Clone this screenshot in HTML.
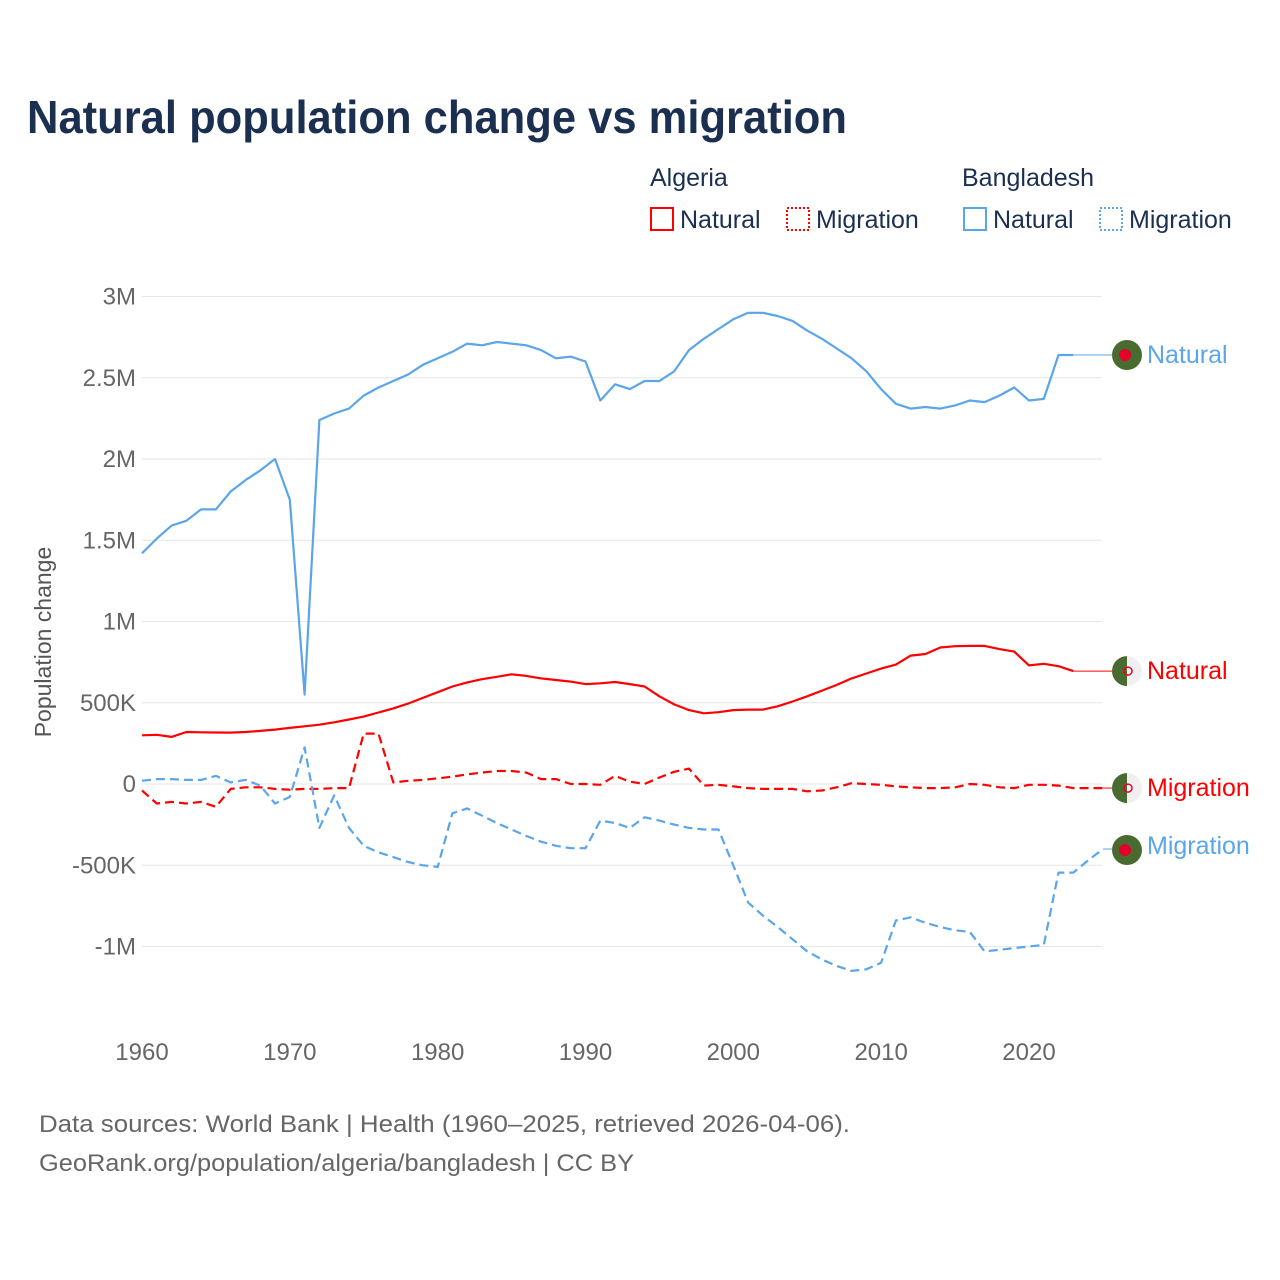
<!DOCTYPE html>
<html><head><meta charset="utf-8"><style>
body{margin:0;background:#fff;font-family:"Liberation Sans",sans-serif;}
#wrap{position:relative;width:1280px;height:1280px;overflow:hidden}
</style></head><body>
<div id="wrap">
<svg id="chart" width="1280" height="1280" xmlns="http://www.w3.org/2000/svg">
<text x="27" y="133" font-size="46" font-weight="bold" fill="#1b3050" textLength="820" lengthAdjust="spacingAndGlyphs">Natural population change vs migration</text>
<g font-size="25" fill="#1b3050">
<text x="650" y="186">Algeria</text>
<text x="962" y="186">Bangladesh</text>
<g><rect x="651" y="208" width="22" height="22" fill="none" stroke="#f00" stroke-width="2"/><text x="680" y="228">Natural</text></g>
<g><rect x="787" y="208" width="22" height="22" fill="none" stroke="#f00" stroke-width="2" stroke-dasharray="2,2"/><text x="816" y="228">Migration</text></g>
<g><rect x="964" y="208" width="22" height="22" fill="none" stroke="#5ba5ea" stroke-width="2"/><text x="993" y="228">Natural</text></g>
<g><rect x="1100" y="208" width="22" height="22" fill="none" stroke="#5ba5ea" stroke-width="2" stroke-dasharray="2,2"/><text x="1129" y="228">Migration</text></g>
</g>
<g id="grid"></g>
<g id="series"></g>
<g id="labels"></g>
<text transform="translate(51,642) rotate(-90)" text-anchor="middle" font-size="23" fill="#555">Population change</text>
<text x="39" y="1132" font-size="24" fill="#666" textLength="811" lengthAdjust="spacingAndGlyphs">Data sources: World Bank | Health (1960–2025, retrieved 2026-04-06).</text>
<text x="39" y="1171" font-size="24" fill="#666" textLength="595" lengthAdjust="spacingAndGlyphs">GeoRank.org/population/algeria/bangladesh | CC BY</text>
</svg>
</div>
<script>
const yTicks=[3000,2500,2000,1500,1000,500,0,-500,-1000];
const yTickLabels=["3M","2.5M","2M","1.5M","1M","500K","0","-500K","-1M"];
const xTicks=[1960,1970,1980,1990,2000,2010,2020];
const startYear=1960;
const bdNatural=[1420,1510,1590,1620,1690,1690,1800,1870,1930,2000,1750,550,2240,2280,2310,2390,2440,2480,2520,2580,2620,2660,2710,2700,2720,2710,2700,2670,2620,2630,2600,2360,2460,2430,2480,2480,2540,2670,2740,2800,2860,2900,2900,2880,2850,2790,2740,2680,2620,2540,2430,2340,2310,2320,2310,2330,2360,2350,2390,2440,2360,2370,2640,2640];
const dzNatural=[300,303,290,320,318,317,316,320,327,335,345,355,365,380,397,415,440,465,495,530,565,600,625,645,660,675,665,650,640,630,615,620,628,615,600,540,490,455,435,442,455,458,458,478,508,540,575,610,650,680,710,735,790,800,840,848,850,850,830,815,730,740,725,695];
const dzMigration=[-40,-120,-110,-120,-110,-140,-30,-20,-20,-30,-35,-30,-30,-25,-25,310,310,10,20,25,35,45,60,70,80,80,70,30,30,0,0,-5,50,15,0,40,75,95,-10,-5,-15,-25,-30,-30,-30,-45,-40,-20,5,0,-5,-15,-20,-25,-25,-20,0,-5,-20,-25,-5,-5,-10,-25,-25,-25];
const bdMigration=[20,30,30,25,25,50,10,25,-10,-120,-80,225,-270,-70,-270,-380,-420,-450,-480,-500,-510,-180,-150,-195,-240,-280,-320,-355,-380,-395,-395,-225,-240,-270,-205,-225,-250,-270,-280,-280,-500,-730,-810,-880,-955,-1030,-1080,-1120,-1150,-1140,-1100,-840,-820,-855,-880,-900,-910,-1030,-1020,-1010,-1000,-990,-545,-545,-470,-400];
const NS="http://www.w3.org/2000/svg";
const X=yr=>142+(yr-1960)*14.783;
const Y=v=>784-v*0.1625;
function mk(tag,attrs,parent){const e=document.createElementNS(NS,tag);for(const k in attrs)e.setAttribute(k,attrs[k]);parent.appendChild(e);return e;}
const grid=document.getElementById('grid');
yTicks.forEach((t,i)=>{
 const l=mk('line',{x1:142,x2:1102,y1:Y(t),y2:Y(t),stroke:'#e6e6e6','stroke-width':1},grid);
 
 
 const tx=mk('text',{x:136,y:Y(t)+8,'text-anchor':'end','font-size':24,fill:'#666'},grid);
 tx.textContent=yTickLabels[i];
 
 
});
xTicks.forEach(t=>{
 const tx=mk('text',{x:X(t),y:1060,'text-anchor':'middle','font-size':24,fill:'#666'},grid);
 tx.textContent=t;
 
 
});
const ser=document.getElementById('series');
function line(arr,color,dash,name){
 const pts=arr.map((v,i)=>X(startYear+i).toFixed(1)+','+Y(v).toFixed(1)).join(' ');
 const p=mk('polyline',{points:pts,fill:'none',stroke:color,'stroke-width':2.2,'stroke-linejoin':'round'},ser);
 if(dash)p.setAttribute('stroke-dasharray','9,5');
 
 
 const last=arr.length-1;
 const c=mk('line',{x1:X(startYear+last),x2:1112,y1:Y(arr[last]),y2:Y(arr[last]),stroke:color,'stroke-width':1},ser);
 
 
 return Y(arr[last]);
}
const y1=line(bdNatural,'#5ba5ea',false,'bangladesh-natural-line');
const y2=line(dzNatural,'#ff0000',false,'algeria-natural-line');
const y3=line(dzMigration,'#ff0000',true,'algeria-migration-line');
const y4=line(bdMigration,'#5ba5ea',true,'bangladesh-migration-line');
const lab=document.getElementById('labels');
function flagBD(y,name){const g=mk('g',{},lab);mk('circle',{cx:1127,cy:y,r:15,fill:'#4a6b2f'},g);mk('circle',{cx:1125,cy:y,r:6,fill:'#e4002b'},g);}
function flagDZ(y,name){const g=mk('g',{},lab);mk('circle',{cx:1127,cy:y,r:15,fill:'#f0f0f0'},g);mk('path',{d:`M1127 ${y-15} A15 15 0 0 0 1127 ${y+15} Z`,fill:'#4a6b2f'},g);mk('circle',{cx:1128,cy:y,r:4,fill:'none',stroke:'#e4002b','stroke-width':1.5},g);}
function txt(y,s,color,name){const t=mk('text',{x:1147,y:y+8,'font-size':25,fill:color},lab);t.textContent=s;}
flagBD(y1,'bangladesh-flag-natural');txt(y1,'Natural','#5ba5ea','label-bangladesh-natural');
flagDZ(y2,'algeria-flag-natural');txt(y2,'Natural','#ff0000','label-algeria-natural');
flagDZ(y3,'algeria-flag-migration');txt(y3,'Migration','#ff0000','label-algeria-migration');
flagBD(y4+1,'bangladesh-flag-migration');txt(y4-3,'Migration','#5ba5ea','label-bangladesh-migration');
</script>
</body></html>
